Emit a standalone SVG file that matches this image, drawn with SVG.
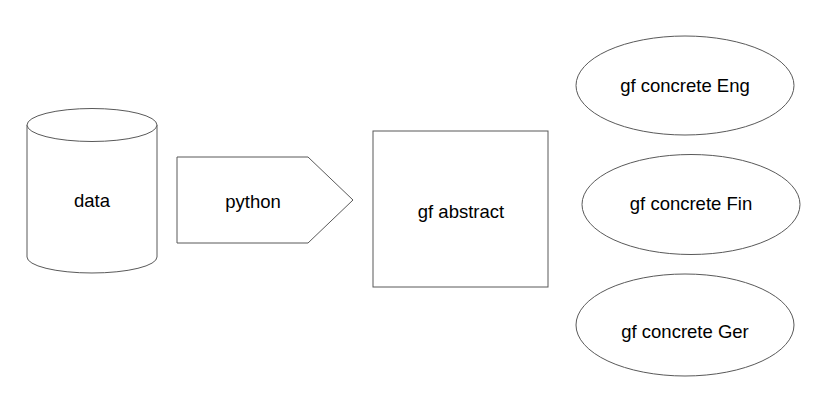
<svg xmlns="http://www.w3.org/2000/svg" width="817" height="418" viewBox="0 0 817 418">
<style>
.s{fill:#fff;stroke:#595959;stroke-width:1}
.t{font-family:"Liberation Sans",Arial,sans-serif;font-size:18.5px;fill:#000;text-anchor:middle;dominant-baseline:central}
</style>
<rect width="817" height="418" fill="#fff"/>
<g id="data">
<path class="s" d="M27,125 L27,257 A65,16 0 0 0 157,257 L157,125"/>
<ellipse class="s" cx="92" cy="125" rx="65" ry="16.5"/>
<text class="t" x="92" y="200">data</text>
</g>
<g id="python">
<polygon class="s" points="177,157 308,157 353,200 308,243 177,243"/>
<text class="t" x="253" y="201">python</text>
</g>
<g id="abstract">
<rect class="s" x="373" y="131" width="175" height="156"/>
<text class="t" x="461" y="211">gf abstract</text>
</g>
<g id="eng">
<ellipse class="s" cx="685" cy="85.5" rx="109" ry="49.5"/>
<text class="t" x="685" y="85">gf concrete Eng</text>
</g>
<g id="fin">
<ellipse class="s" cx="691" cy="204.5" rx="109" ry="50"/>
<text class="t" x="691" y="203">gf concrete Fin</text>
</g>
<g id="ger">
<ellipse class="s" cx="685" cy="325" rx="109" ry="51"/>
<text class="t" x="685" y="331">gf concrete Ger</text>
</g>
<g id="connectors"></g>
</svg>
